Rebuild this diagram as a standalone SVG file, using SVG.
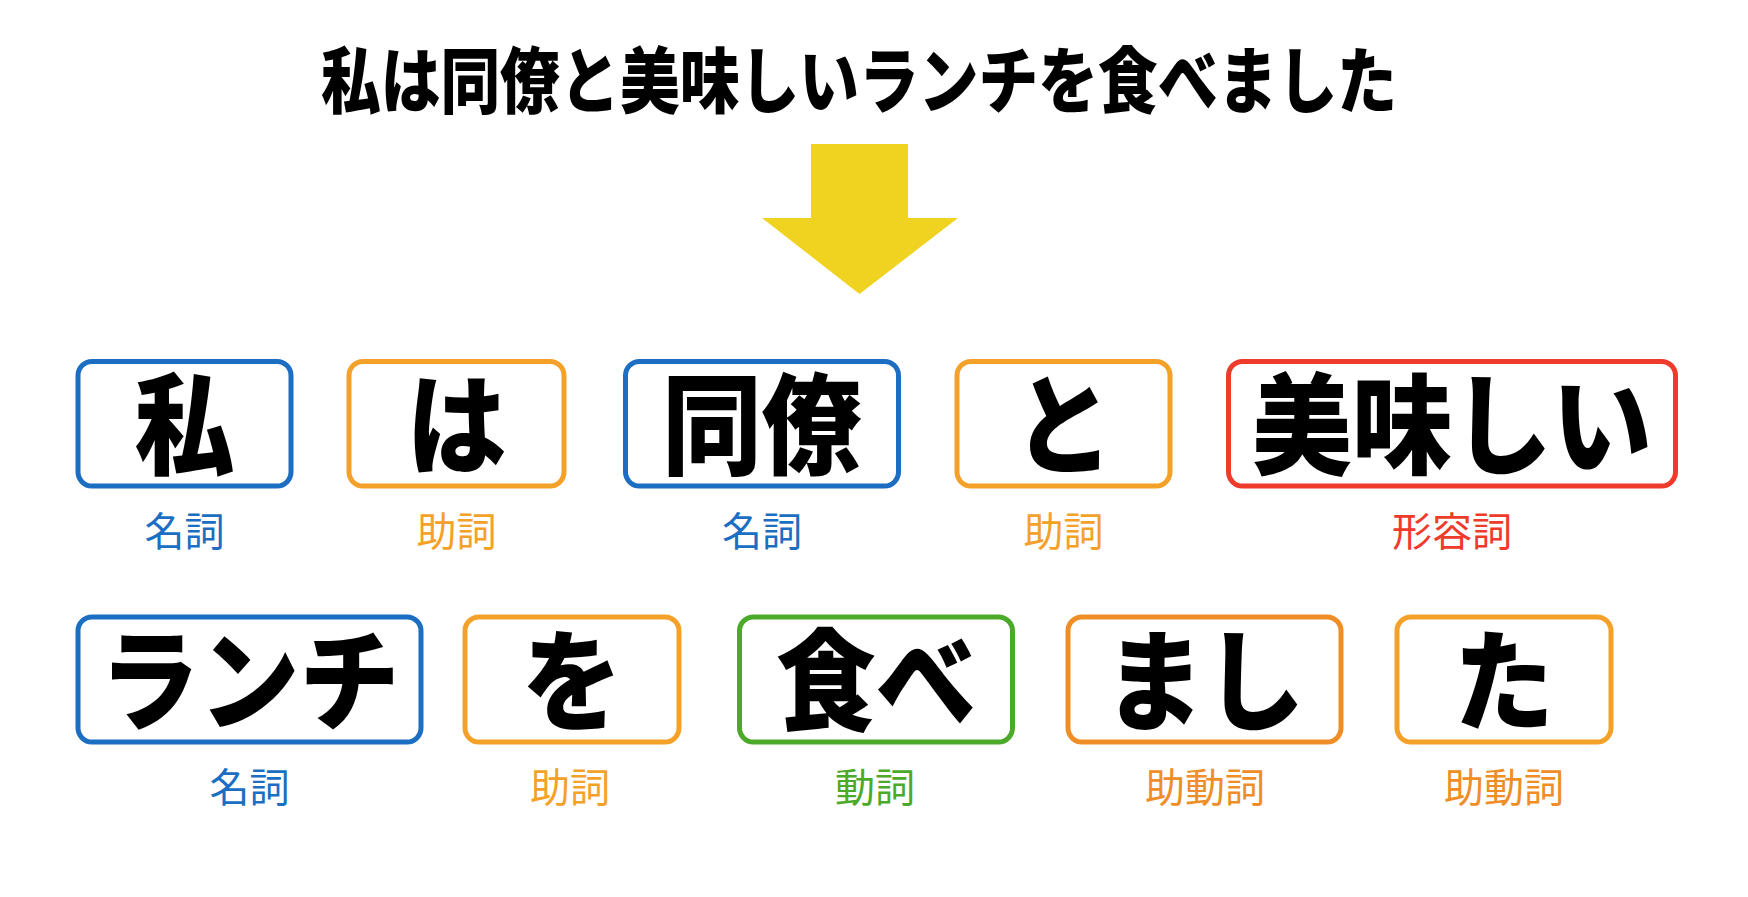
<svg xmlns="http://www.w3.org/2000/svg" width="1748" height="897" viewBox="0 0 1748 897">
<style>
.bg{fill:#ffffff}
.box{fill:#ffffff;stroke-width:5}
.word{font-family:"Noto Sans CJK JP","Noto Sans CJK SC",sans-serif;font-weight:900;font-size:100px;fill:#000;text-anchor:middle}
.lab{font-family:"Noto Sans CJK JP","Noto Sans CJK SC",sans-serif;font-weight:400;font-size:40px;text-anchor:middle}
.title{font-family:"Noto Sans CJK JP","Noto Sans CJK SC",sans-serif;font-weight:900;font-size:62px;fill:#000;text-anchor:middle}
.blue{stroke:#1b6ec2}
.orange{stroke:#f4a12a}
.dorange{stroke:#ef8e27}
.red{stroke:#ef3b2c}
.green{stroke:#4caa2a}
.tblue{fill:#1b6ec2}
.torange{fill:#f4a12a}
.tdorange{fill:#ef8e27}
.tred{fill:#ef3b2c}
.tgreen{fill:#4caa2a}
</style>
<rect class="bg" x="0" y="0" width="1748" height="897"/>
<g id="title">
<text class="title" x="0" y="23.6" transform="translate(859,79.5) scale(1,1.16)" textLength="1076" lengthAdjust="spacingAndGlyphs">私は同僚と美味しいランチを食べました</text>
</g>
<g id="connectors">
<polygon points="811,144 908,144 908,218 958,218 859.5,294 762,218 811,218" fill="#f0d321"/>
</g>
<g id="node-watashi">
<rect class="box blue" x="78" y="361.5" width="213" height="124.5" rx="14"/>
<text class="word" x="0" y="38" transform="translate(184.5,424.5) scale(1,1.1)">私</text>
<text class="lab tblue" x="184.5" y="546">名詞</text>
</g>
<g id="node-wa">
<rect class="box orange" x="349" y="361.5" width="215" height="124.5" rx="14"/>
<text class="word" x="0" y="38" transform="translate(456.5,424.5) scale(1,1.1)">は</text>
<text class="lab torange" x="456.5" y="546">助詞</text>
</g>
<g id="node-douryou">
<rect class="box blue" x="625.5" y="361.5" width="273" height="124.5" rx="14"/>
<text class="word" x="0" y="38" transform="translate(762,424.5) scale(1,1.1)">同僚</text>
<text class="lab tblue" x="762" y="546">名詞</text>
</g>
<g id="node-to">
<rect class="box orange" x="957" y="361.5" width="213" height="124.5" rx="14"/>
<text class="word" x="0" y="38" transform="translate(1063.5,424.5) scale(1,1.1)">と</text>
<text class="lab torange" x="1063.5" y="546">助詞</text>
</g>
<g id="node-oishii">
<rect class="box red" x="1228.5" y="361.5" width="447" height="124.5" rx="14"/>
<text class="word" x="0" y="38" transform="translate(1452,424.5) scale(1,1.1)">美味しい</text>
<text class="lab tred" x="1452" y="546">形容詞</text>
</g>
<g id="node-lunch">
<rect class="box blue" x="78" y="617" width="343" height="125" rx="14"/>
<text class="word" x="0" y="38" transform="translate(249.5,680.5) scale(1,1.1)">ランチ</text>
<text class="lab tblue" x="249.5" y="802">名詞</text>
</g>
<g id="node-wo">
<rect class="box orange" x="465" y="617" width="214" height="125" rx="14"/>
<text class="word" x="0" y="38" transform="translate(572,680.5) scale(1,1.1)">を</text>
<text class="lab torange" x="570" y="802">助詞</text>
</g>
<g id="node-tabe">
<rect class="box green" x="739.5" y="617" width="273" height="125" rx="14"/>
<text class="word" x="0" y="38" transform="translate(876,680.5) scale(1,1.1)">食べ</text>
<text class="lab tgreen" x="875" y="802">動詞</text>
</g>
<g id="node-mashi">
<rect class="box dorange" x="1068" y="617" width="273" height="125" rx="14"/>
<text class="word" x="0" y="38" transform="translate(1204.5,680.5) scale(1,1.1)">まし</text>
<text class="lab tdorange" x="1205" y="802">助動詞</text>
</g>
<g id="node-ta">
<rect class="box orange" x="1397" y="617" width="214" height="125" rx="14"/>
<text class="word" x="0" y="38" transform="translate(1504,680.5) scale(1,1.1)">た</text>
<text class="lab tdorange" x="1504" y="802">助動詞</text>
</g>
</svg>
